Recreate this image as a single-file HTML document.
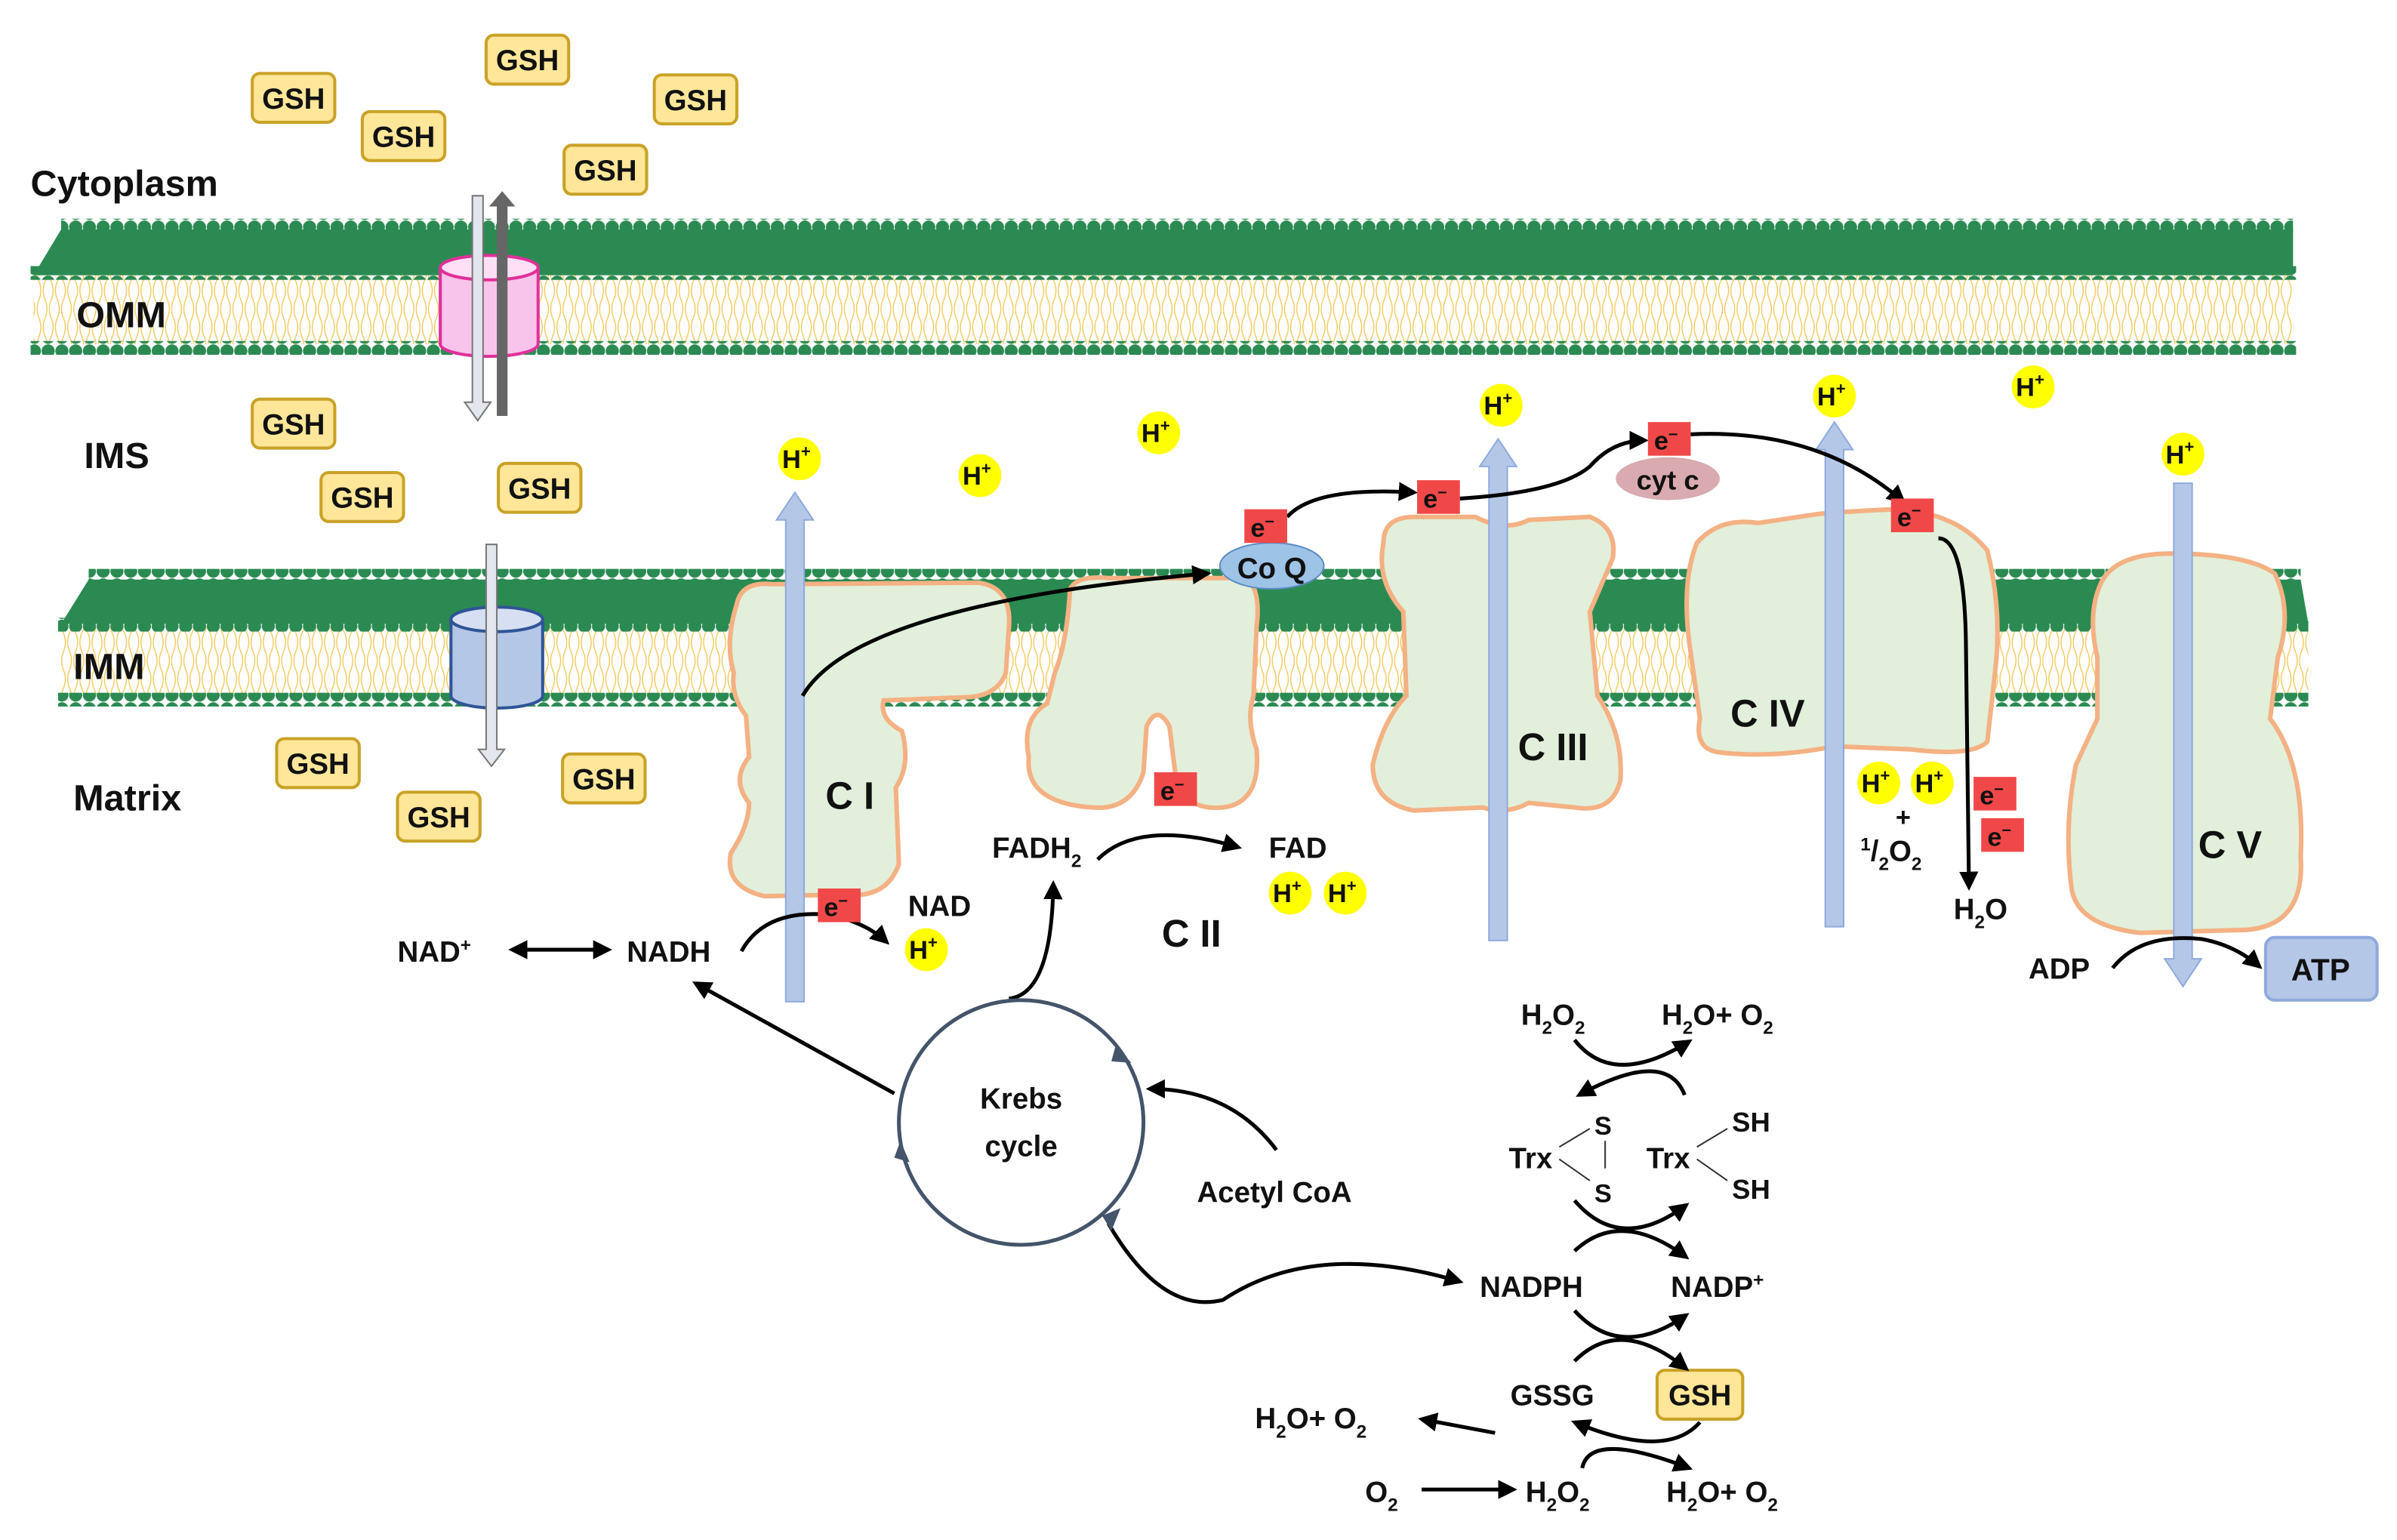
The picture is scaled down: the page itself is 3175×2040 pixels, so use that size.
<!DOCTYPE html>
<html><head><meta charset="utf-8"><style>
html,body{margin:0;padding:0;background:#fff;}
svg{display:block;}
text{font-family:"Liberation Sans",sans-serif;fill:#111;}
.b{font-weight:bold;}
</style></head><body>
<svg width="3175" height="2040" viewBox="0 0 1568 1007" preserveAspectRatio="none" xmlns="http://www.w3.org/2000/svg">
<defs>
<marker id="ar" viewBox="0 0 10 10" refX="8" refY="5" markerWidth="5" markerHeight="5" orient="auto-start-reverse"><path d="M0,0 L10,5 L0,10 z" fill="#000"/></marker>
<pattern id="dots" width="9" height="9" patternUnits="userSpaceOnUse"><circle cx="4.5" cy="4.5" r="4.3" fill="#2b8a52"/></pattern>
<pattern id="tails" width="8" height="46" patternUnits="userSpaceOnUse"><path d="M1.5,0 q2.5,6 0,12 t0,12 t0,12 t0,10 M5.5,0 q-2.5,6 0,12 t0,12 t0,12 t0,10" stroke="#f2c95a" stroke-width="0.7" fill="none"/></pattern>
</defs>
<rect width="1568" height="1007" fill="#fff"/>

<!-- OMM -->
<rect x="22" y="180" width="1478" height="45" fill="url(#tails)"/>
<polygon points="40,150 1500,150 1500,180 22,180" fill="#2b8a52"/>
<rect x="40" y="143" width="1460" height="9" fill="url(#dots)"/>
<rect x="20" y="174" width="1482" height="9" fill="url(#dots)"/>
<rect x="20" y="223" width="1482" height="9" fill="url(#dots)"/>
<!-- IMM -->
<rect x="40" y="410" width="1470" height="45" fill="url(#tails)"/>
<polygon points="58,379 1505,379 1510,408 40,408" fill="#2b8a52"/>
<rect x="58" y="372" width="1447" height="9" fill="url(#dots)"/>
<rect x="38" y="404" width="1472" height="9" fill="url(#dots)"/>
<rect x="38" y="453" width="1472" height="9" fill="url(#dots)"/>

<!-- OMM channel -->
<path d="M288,175 L288,225 A32,8 0 0 0 352,225 L352,175" fill="#f9c4ec" stroke="#e0309a" stroke-width="2"/>
<ellipse cx="320" cy="175" rx="32" ry="8" fill="#fde0f5" stroke="#e0309a" stroke-width="2"/>
<path d="M309,128 h7 v135 h5 l-8.5,12 l-8.5,-12 h5 z" fill="#e4e6ee" stroke="#777" stroke-width="1"/>
<path d="M325,272 h7 v-137 h5 l-8.5,-10 l-8.5,10 h5 z" fill="#666"/>
<!-- IMM channel -->
<path d="M295,405 L295,455 A30,8 0 0 0 355,455 L355,405" fill="#b4c7e7" stroke="#2f5597" stroke-width="2"/>
<ellipse cx="325" cy="405" rx="30" ry="8" fill="#d6e0f2" stroke="#2f5597" stroke-width="2"/>
<path d="M318,356 h7 v134 h5 l-8.5,11 l-8.5,-11 h5 z" fill="#e4e6ee" stroke="#777" stroke-width="1"/>

<!-- Labels -->
<g class="b" font-size="24">
<text x="20" y="128">Cytoplasm</text>
<text x="50" y="214">OMM</text>
<text x="55" y="306">IMS</text>
<text x="48" y="444">IMM</text>
<text x="48" y="530">Matrix</text>
</g>

<!-- GSH boxes -->
<g font-size="19" class="b" text-anchor="middle">
<g fill="#ffe699" stroke="#c9a227" stroke-width="2">
<rect x="165" y="48" width="54" height="32" rx="5"/>
<rect x="237" y="73" width="54" height="32" rx="5"/>
<rect x="318" y="23" width="54" height="32" rx="5"/>
<rect x="428" y="49" width="54" height="32" rx="5"/>
<rect x="369" y="95" width="54" height="32" rx="5"/>
<rect x="165" y="261" width="54" height="32" rx="5"/>
<rect x="210" y="309" width="54" height="32" rx="5"/>
<rect x="326" y="303" width="54" height="32" rx="5"/>
<rect x="181" y="483" width="54" height="32" rx="5"/>
<rect x="260" y="518" width="54" height="32" rx="5"/>
<rect x="368" y="493" width="54" height="32" rx="5"/>
<rect x="1084" y="896" width="56" height="32" rx="5"/>
</g>
<text x="192" y="71">GSH</text><text x="264" y="96">GSH</text><text x="345" y="46">GSH</text>
<text x="455" y="72">GSH</text><text x="396" y="118">GSH</text><text x="192" y="284">GSH</text>
<text x="237" y="332">GSH</text><text x="353" y="326">GSH</text><text x="208" y="506">GSH</text>
<text x="287" y="541">GSH</text><text x="395" y="516">GSH</text><text x="1112" y="919">GSH</text>
</g>

<!-- Complexes -->
<g fill="#e2efda" stroke="#f4b183" stroke-width="3">
<path d="M482,395 Q485,380 505,382 L640,381 Q662,384 660,410 L658,440 Q652,456 630,456 L578,458 Q575,470 590,478 Q596,500 586,515 L588,565 Q580,588 552,585 L500,586 Q474,580 478,558 Q490,540 490,525 Q478,510 490,495 L488,468 Q478,455 480,440 Q474,420 482,395 Z"/>
<path d="M700,385 Q705,376 725,378 L815,378 Q825,385 822,410 L820,455 Q815,470 822,490 Q825,525 800,528 Q780,530 770,515 L765,475 Q757,460 750,475 L748,505 Q740,530 715,528 Q670,525 673,495 Q668,470 685,460 L690,440 Q698,420 700,385 Z"/>
<path d="M905,355 Q905,338 925,338 L965,338 Q985,348 1000,340 L1040,338 Q1058,345 1055,365 L1040,400 L1045,455 Q1062,480 1060,510 Q1055,532 1030,528 L1000,525 Q985,533 970,528 L925,530 Q898,525 898,500 Q905,470 920,455 L918,400 Q900,380 905,355 Z"/>
<path d="M1110,355 Q1125,338 1150,342 L1190,336 Q1215,334 1240,333 Q1280,335 1300,360 Q1310,400 1305,440 L1300,485 Q1290,495 1250,490 L1200,488 Q1160,496 1125,492 Q1108,490 1112,470 L1105,420 Q1100,380 1110,355 Z"/>
<path d="M1375,380 Q1385,362 1420,362 Q1470,362 1488,375 Q1500,400 1490,430 L1485,470 Q1508,500 1505,560 Q1508,605 1470,608 L1400,610 Q1358,605 1355,580 Q1350,540 1358,500 L1372,470 L1372,430 Q1365,400 1375,380 Z"/>
</g>
<g class="b" font-size="25">
<text x="540" y="529">C I</text>
<text x="760" y="619">C II</text>
<text x="993" y="497">C III</text>
<text x="1132" y="475">C IV</text>
<text x="1438" y="561">C V</text>
</g>

<!-- proton channel arrows -->
<g fill="#b4c7e7" stroke="#8faadc" stroke-width="1">
<path d="M514,655 V340 H508 L520,322 L532,340 H526 V655 Z"/>
<path d="M974,615 V305 H968 L980,287 L992,305 H986 V615 Z"/>
<path d="M1194,606 V294 H1188 L1200,276 L1212,294 H1206 V606 Z"/>
<path d="M1422,316 V627 H1416 L1428,645 L1440,627 H1434 V316 Z"/>
</g>

<!-- CoQ, cyt c -->
<ellipse cx="832" cy="370" rx="34" ry="15" fill="#9dc3e6" stroke="#5b8cc7" stroke-width="1"/>
<text x="832" y="378" text-anchor="middle" font-size="19" class="b">Co Q</text>
<ellipse cx="1091" cy="313" rx="34" ry="14" fill="#d9aab0"/>
<text x="1091" y="320" text-anchor="middle" font-size="18" class="b">cyt c</text>

<!-- electron arrows -->
<g fill="none" stroke="#000" stroke-width="2.5" marker-end="url(#ar)">
<path d="M525,455 Q560,395 790,375"/>
<path d="M842,338 Q860,318 925,322"/>
<path d="M955,326 Q1020,322 1040,305 Q1055,288 1076,288"/>
<path d="M1106,284 Q1190,280 1245,328"/>
<path d="M1268,352 Q1285,352 1286,420 L1288,580"/>
<path d="M485,622 Q500,595 540,598 Q565,602 580,616"/>
<path d="M718,562 Q745,535 810,554"/>
<path d="M1382,633 Q1400,610 1440,614 Q1462,618 1478,632"/>
<path d="M660,653 Q688,650 689,578"/>
<path d="M585,715 Q540,690 455,643"/>
<path d="M835,752 Q805,712 752,712"/>
<path d="M725,800 Q760,860 800,850 Q860,810 955,838"/>
<path d="M335,621 H398" marker-start="url(#ar)"/>
<path d="M1030,680 Q1055,712 1105,681"/>
<path d="M1102,716 Q1090,685 1033,716"/>
<path d="M1030,785 Q1060,820 1103,788"/>
<path d="M1030,818 Q1060,790 1103,822"/>
<path d="M1030,857 Q1060,890 1103,860"/>
<path d="M1030,890 Q1060,860 1103,895"/>
<path d="M1112,930 Q1090,955 1030,930"/>
<path d="M1035,960 Q1040,935 1105,960"/>
<path d="M978,937 L930,928"/>
<path d="M930,974 L990,974"/>
</g>

<!-- Krebs -->
<circle cx="668" cy="734" r="80" fill="none" stroke="#44546a" stroke-width="2.5"/>
<g fill="#44546a">
<path d="M730,683 l10,12 l-13,-1 z"/>
<path d="M733,790 l-6,15 l-6,-10 z"/>
<path d="M595,760 l-6,-14 l-4,11 z"/>
</g>
<text x="668" y="725" text-anchor="middle" font-size="19" class="b">Krebs</text>
<text x="668" y="756" text-anchor="middle" font-size="19" class="b">cycle</text>

<!-- H+ circles -->
<g fill="#ffff00">
<circle cx="523" cy="300" r="14"/><circle cx="641" cy="311" r="14"/><circle cx="758" cy="283" r="14"/>
<circle cx="982" cy="265" r="14"/><circle cx="1200" cy="259" r="14"/><circle cx="1330" cy="253" r="14"/>
<circle cx="1428" cy="297" r="14"/><circle cx="606" cy="621" r="14"/><circle cx="844" cy="584" r="14"/>
<circle cx="880" cy="584" r="14"/><circle cx="1229" cy="512" r="14"/><circle cx="1264" cy="512" r="14"/>
</g>
<g font-size="17" class="b" text-anchor="middle">
<text x="521" y="306">H<tspan font-size="11" dy="-7">+</tspan></text>
<text x="639" y="317">H<tspan font-size="11" dy="-7">+</tspan></text>
<text x="756" y="289">H<tspan font-size="11" dy="-7">+</tspan></text>
<text x="980" y="271">H<tspan font-size="11" dy="-7">+</tspan></text>
<text x="1198" y="265">H<tspan font-size="11" dy="-7">+</tspan></text>
<text x="1328" y="259">H<tspan font-size="11" dy="-7">+</tspan></text>
<text x="1426" y="303">H<tspan font-size="11" dy="-7">+</tspan></text>
<text x="604" y="627">H<tspan font-size="11" dy="-7">+</tspan></text>
<text x="842" y="590">H<tspan font-size="11" dy="-7">+</tspan></text>
<text x="878" y="590">H<tspan font-size="11" dy="-7">+</tspan></text>
<text x="1227" y="518">H<tspan font-size="11" dy="-7">+</tspan></text>
<text x="1262" y="518">H<tspan font-size="11" dy="-7">+</tspan></text>
</g>

<!-- e- boxes -->
<g fill="#f04848">
<rect x="535" y="581" width="28" height="22"/><rect x="814" y="333" width="28" height="22"/>
<rect x="927" y="314" width="28" height="22"/><rect x="1078" y="276" width="28" height="22"/>
<rect x="1237" y="326" width="28" height="22"/><rect x="755" y="505" width="28" height="22"/>
<rect x="1291" y="508" width="28" height="22"/><rect x="1296" y="535" width="28" height="22"/>
</g>
<g font-size="17" class="b" fill="#111">
<text x="539" y="599">e<tspan font-size="11" dy="-7">–</tspan></text>
<text x="818" y="351">e<tspan font-size="11" dy="-7">–</tspan></text>
<text x="931" y="332">e<tspan font-size="11" dy="-7">–</tspan></text>
<text x="1082" y="294">e<tspan font-size="11" dy="-7">–</tspan></text>
<text x="1241" y="344">e<tspan font-size="11" dy="-7">–</tspan></text>
<text x="759" y="523">e<tspan font-size="11" dy="-7">–</tspan></text>
<text x="1295" y="526">e<tspan font-size="11" dy="-7">–</tspan></text>
<text x="1300" y="553">e<tspan font-size="11" dy="-7">–</tspan></text>
</g>

<!-- text labels -->
<g font-size="19" class="b">
<text x="260" y="629">NAD<tspan font-size="12" dy="-7">+</tspan></text>
<text x="410" y="629">NADH</text>
<text x="594" y="599">NAD</text>
<text x="649" y="561">FADH<tspan font-size="12" dy="6">2</tspan></text>
<text x="830" y="561">FAD</text>
<text x="1240" y="540" font-size="17">+</text>
<text x="1217" y="563"><tspan font-size="12" dy="-7">1</tspan><tspan dy="7">/</tspan><tspan font-size="12" dy="6">2</tspan><tspan dy="-6">O</tspan><tspan font-size="12" dy="6">2</tspan></text>
<text x="1278" y="601">H<tspan font-size="12" dy="6">2</tspan><tspan dy="-6">O</tspan></text>
<text x="1327" y="640">ADP</text>
<text x="783" y="786">Acetyl CoA</text>
<text x="995" y="670">H<tspan font-size="12" dy="6">2</tspan><tspan dy="-6">O</tspan><tspan font-size="12" dy="6">2</tspan></text>
<text x="1087" y="670">H<tspan font-size="12" dy="6">2</tspan><tspan dy="-6">O+ O</tspan><tspan font-size="12" dy="6">2</tspan></text>
<text x="987" y="764">Trx</text>
<text x="1043" y="742" font-size="17">S</text>
<text x="1043" y="786" font-size="17">S</text>
<text x="1077" y="764">Trx</text>
<text x="1133" y="740" font-size="18">SH</text>
<text x="1133" y="784" font-size="18">SH</text>
<text x="968" y="848">NADPH</text>
<text x="1093" y="848">NADP<tspan font-size="12" dy="-7">+</tspan></text>
<text x="988" y="919">GSSG</text>
<text x="821" y="934">H<tspan font-size="12" dy="6">2</tspan><tspan dy="-6">O+ O</tspan><tspan font-size="12" dy="6">2</tspan></text>
<text x="893" y="982">O<tspan font-size="12" dy="6">2</tspan></text>
<text x="998" y="982">H<tspan font-size="12" dy="6">2</tspan><tspan dy="-6">O</tspan><tspan font-size="12" dy="6">2</tspan></text>
<text x="1090" y="982">H<tspan font-size="12" dy="6">2</tspan><tspan dy="-6">O+ O</tspan><tspan font-size="12" dy="6">2</tspan></text>
</g>
<g stroke="#333" stroke-width="1">
<line x1="1020" y1="750" x2="1040" y2="738"/><line x1="1020" y1="758" x2="1040" y2="772"/>
<line x1="1050" y1="746" x2="1050" y2="764"/>
<line x1="1110" y1="750" x2="1130" y2="738"/><line x1="1110" y1="758" x2="1130" y2="772"/>
</g>

<!-- ATP -->
<rect x="1482" y="613" width="73" height="41" rx="6" fill="#b4c7e7" stroke="#8faadc" stroke-width="2"/>
<text x="1518" y="641" text-anchor="middle" font-size="20" class="b">ATP</text>
</svg>
</body></html>
